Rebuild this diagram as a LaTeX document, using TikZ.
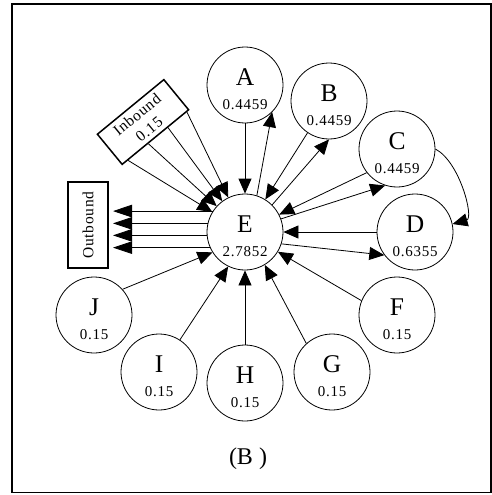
\documentclass[tikz,border=0pt]{standalone}
\usepackage{fontspec}
\setmainfont{Liberation Serif}
\newfontfamily\spacedfont[LetterSpace=5]{Liberation Serif}
\usetikzlibrary{arrows.meta,calc}
\newcommand\mycirc[5]{%
  \node[circ] (#1) at (#2,#3) {};
  \node[lett] (#1l) at (#1.center) {#4};
  \node[num] (#1n) at ([yshift=-24pt]#1.center) {#5};}
\begin{document}
\begin{tikzpicture}[x=1pt,y=-1pt,
  circ/.style={draw,circle,minimum size=76pt,inner sep=0pt,line width=0.8pt},
  lett/.style={anchor=base,inner sep=0pt,font=\fontsize{25.5}{25.5}\selectfont},
  num/.style={anchor=base,inner sep=0pt,font=\spacedfont\fontsize{15}{15}\selectfont},
  arr/.style={-{Triangle[length=15pt,width=13pt]},line width=0.8pt},
  bigarr/.style={-{Triangle[length=19pt,width=12.5pt]},line width=0.8pt},
  box/.style={draw,line width=1.5pt,inner sep=0pt,font=\spacedfont\fontsize{15.5}{19}\selectfont,align=center}]
\useasboundingbox (0,0) rectangle (492,495);
\draw[line width=1.6pt] (12,4) rectangle (491,492.5);

\mycirc{A}{245}{85}{A}{0.4459}
\mycirc{B}{329}{101}{B}{0.4459}
\mycirc{C}{397}{149}{C}{0.4459}
\mycirc{D}{415}{232}{D}{0.6355}
\mycirc{E}{245}{232}{E}{2.7852}
\mycirc{F}{397}{315}{F}{0.15}
\mycirc{G}{332}{372}{G}{0.15}
\mycirc{H}{245}{383}{H}{0.15}
\mycirc{I}{159}{372}{I}{0.15}
\mycirc{J}{94}{315}{J}{0.15}

\node[box,minimum width=86pt,minimum height=39pt,rotate=39.4] (inb) at (143,122) {Inbound\\0.15};
\node[box,minimum width=86pt,minimum height=40pt,rotate=90] (outb) at (88,225) {Outbound};

% pairs with E
\draw[arr] (A) -- (E);
\draw[arr] (E.72) -- (A.-45);
\draw[arr] (B.236) -- (E.58);
\draw[arr] (E.45) -- (B.270);
\draw[arr] (C.218) -- (E.27);
\draw[arr] (E.20) -- (C.252);
\draw[arr] (D) -- (E);
\draw[arr] (E.-18) -- (D.217);
\draw[arr] (C.east) .. controls (460,162) and (474,218) .. (D.12);

% incoming
\draw[arr] (F.158) -- (E.-31);
\draw[arr] (G.132) -- (E.-59);
\draw[arr] (H) -- (E);
\draw[arr] (I.57) -- (E.244);
\draw[arr] (J.42) -- (E.212);

% inbound
\coordinate (i1) at ($(inb.south west)!0.09!(inb.south east)$);
\coordinate (i2) at ($(inb.south west)!0.39!(inb.south east)$);
\coordinate (i3) at ($(inb.south west)!0.68!(inb.south east)$);
\coordinate (i4) at ($(inb.south west)!0.96!(inb.south east)$);
\foreach \p in {i1,i2,i3,i4} \draw[arr] (\p) -- (E);

% outbound
\coordinate (otip) at (113,232);
\foreach \a in {147.4,167.1,185.3,204.1}
  \draw[bigarr] (E.\a) -- (E.\a -| otip);

\node[anchor=base,inner sep=0pt,font=\fontsize{24}{24}\selectfont] (cap) at (248,464) {(B )};
\end{tikzpicture}
\end{document}
